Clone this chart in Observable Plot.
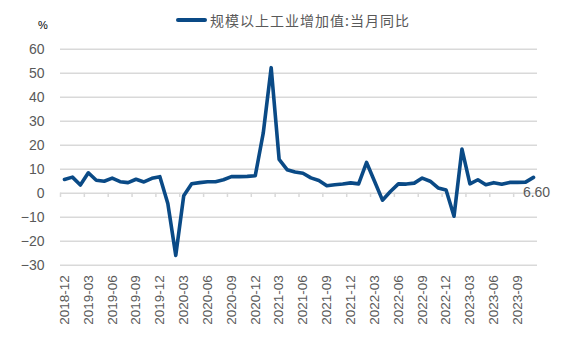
<!DOCTYPE html>
<html><head><meta charset="utf-8">
<script src="https://cdn.jsdelivr.net/npm/d3@7"></script>
<script src="https://cdn.jsdelivr.net/npm/@observablehq/plot@0.6"></script>
<style>
html,body{margin:0;padding:0;background:#fff;}
#wrap{position:relative;width:569px;height:353px;overflow:hidden;background:#fff;}
#head{position:relative;height:30px;}
#pct{position:absolute;left:38px;top:20px;font:11px "Liberation Sans",Arial,sans-serif;line-height:11px;color:#000;}
#legend{position:absolute;left:176px;top:9.5px;height:20px;display:flex;align-items:center;white-space:nowrap;}
#legend .sw{display:inline-block;width:31px;height:4px;background:#0a4a86;border-radius:2px;margin-right:3px;}
#legend .lt{font:14px "Noto Sans CJK SC",sans-serif;letter-spacing:1px;color:#595959;line-height:20px;}
</style></head><body>
<div id="wrap">
  <div id="head"><div id="pct">%</div><div id="legend"><span class="sw"></span><span class="lt"></span></div></div>
  <div id="chart"></div>
</div>
<script>
const seriesName = "规模以上工业增加值:当月同比";
const months = [
  "2018-12",
  "2019-01","2019-02","2019-03","2019-04","2019-05","2019-06","2019-07","2019-08","2019-09","2019-10","2019-11","2019-12",
  "2020-01","2020-02","2020-03","2020-04","2020-05","2020-06","2020-07","2020-08","2020-09","2020-10","2020-11","2020-12",
  "2021-01","2021-02","2021-03","2021-04","2021-05","2021-06","2021-07","2021-08","2021-09","2021-10","2021-11","2021-12",
  "2022-01","2022-02","2022-03","2022-04","2022-05","2022-06","2022-07","2022-08","2022-09","2022-10","2022-11","2022-12",
  "2023-01","2023-02","2023-03","2023-04","2023-05","2023-06","2023-07","2023-08","2023-09","2023-10","2023-11"
];
const values = [
  5.7,
  6.7, 3.4, 8.5, 5.4, 5.0, 6.3, 4.8, 4.4, 5.8, 4.7, 6.2, 6.9,
  -4.3, -25.9, -1.1, 3.9, 4.4, 4.8, 4.8, 5.6, 6.9, 6.9, 7.0, 7.3,
  25.0, 52.3, 14.1, 9.8, 8.8, 8.3, 6.4, 5.3, 3.1, 3.5, 3.8, 4.3,
  3.9, 12.8, 5.0, -2.9, 0.7, 3.9, 3.8, 4.2, 6.3, 5.0, 2.2, 1.3,
  -9.6, 18.4, 3.9, 5.6, 3.5, 4.4, 3.7, 4.5, 4.5, 4.6, 6.6
];
const tickLabels = [
  "2018-12","2019-03","2019-06","2019-09","2019-12","2020-03","2020-06","2020-09","2020-12","2021-03",
  "2021-06","2021-09","2021-12","2022-03","2022-06","2022-09","2022-12","2023-03","2023-06","2023-09"
];
const yTicks = [-30, -20, -10, 0, 10, 20, 30, 40, 50, 60];

document.querySelector("#legend .lt").textContent = seriesName;

const data = months.map((m, i) => ({month: m, value: values[i]}));
const W = 569, H = 323;
const mL = 60, mR = 32, mT = 18.7, mB = 88.3;
const halfStep = (W - mL - mR) / months.length / 2;
const lineColor = "#0a4a86";

const chart = Plot.plot({
  width: W, height: H,
  marginLeft: mL, marginRight: mR, marginTop: mT, marginBottom: mB,
  style: {fontFamily: '"Liberation Sans", Arial, sans-serif', color: "#595959", background: "#fff", overflow: "visible"},
  x: {type: "point", domain: months, padding: 0.5, label: null},
  y: {domain: [-30, 60], label: null},
  marks: [
    Plot.ruleY(yTicks, {stroke: "#d9d9d9", strokeWidth: 1.6}),
    Plot.ruleX(tickLabels, {x: d => d, y1: 0, y2: -1.8, dx: -halfStep, stroke: "#d9d9d9", strokeWidth: 1.5}),
    Plot.axisY({ticks: yTicks, tickSize: 0, tickPadding: 16, fontSize: 14, label: null, fill: "#595959"}),
    Plot.axisX({ticks: tickLabels, tickSize: 0, tickRotate: -90, tickPadding: 10, fontSize: 13.5, label: null, fill: "#595959"}),
    Plot.line(data, {x: "month", y: "value", stroke: lineColor, strokeWidth: 3.6}),
    Plot.text(data.slice(-1), {x: "month", y: "value", text: d => d3.format(".2f")(d.value), dy: 15, dx: 3, fontSize: 14, fill: "#595959"})
  ]
});
document.getElementById("chart").appendChild(chart);
</script>
</body></html>
